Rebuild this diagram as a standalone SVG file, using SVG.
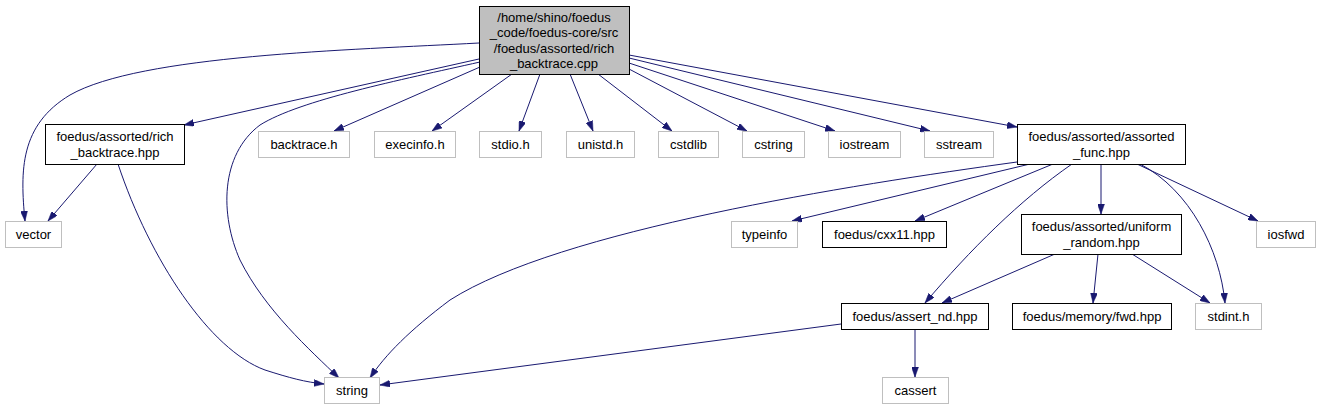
<svg xmlns="http://www.w3.org/2000/svg" width="1320" height="409" viewBox="0 0 1320 409">
<style>
  .n rect { fill: #ffffff; stroke: #000000; stroke-width: 1; }
  .u rect { fill: #ffffff; stroke: #bfbfbf; stroke-width: 1; }
  .root rect { fill: #bfbfbf; stroke: #000000; stroke-width: 1; }
  text { font-family: "Liberation Sans", Arial, sans-serif; font-size: 13px; fill: #000000; text-anchor: middle; }
  .e path { fill: none; stroke: #191970; stroke-width: 1; marker-end: url(#ah); }
</style>
<defs>
  <marker id="ah" viewBox="0 0 10 7" markerWidth="10" markerHeight="7" refX="10" refY="3.5" orient="auto" markerUnits="userSpaceOnUse">
    <path d="M0,0 L10,3.5 L0,7 z" fill="#191970" stroke="#191970" stroke-width="0.5"/>
  </marker>
</defs>
<rect width="1320" height="409" fill="#ffffff"/>
<g id="edges" class="e">
  <path d="M479,43 C350,50 140,55 70,95 C20,125 20,170 25,221"/>
  <path d="M479,59 L184,125"/>
  <path d="M480,62 C400,80 300,100 260,125 C220,155 220,215 240,260 C265,310 310,350 339,378"/>
  <path d="M480,67 L334,131"/>
  <path d="M512,74 L432,131"/>
  <path d="M540,74 L519,131"/>
  <path d="M570,74 L593,131"/>
  <path d="M598,74 L672,131"/>
  <path d="M629,69 L747,131"/>
  <path d="M629,63 L835,131"/>
  <path d="M629,58 L930,131"/>
  <path d="M629,55 L1017,127"/>
  <path d="M1017,162 C850,185 560,230 450,300 C410,330 385,355 370,378"/>
  <path d="M1030,164 L792,221"/>
  <path d="M1053,164 L915,221"/>
  <path d="M1072,164 C1020,200 970,250 925,303"/>
  <path d="M1101,164 L1101,214"/>
  <path d="M1137,164 L1258,221"/>
  <path d="M1140,164 C1190,190 1220,250 1225,303"/>
  <path d="M1055,254 L942,303"/>
  <path d="M1098,254 L1093,303"/>
  <path d="M1132,254 L1210,303"/>
  <path d="M97,164 L48,221"/>
  <path d="M118,164 C150,260 210,350 265,370 C290,378 305,382 324,384"/>
  <path d="M841,324 L380,385"/>
  <path d="M915,329 L915,377"/>
</g>
<g id="node_root" class="root">
  <rect x="479.5" y="6.5" width="150" height="68"/>
  <text x="554" y="21.5">/home/shino/foedus</text>
  <text x="554" y="37">_code/foedus-core/src</text>
  <text x="554" y="52.5">/foedus/assorted/rich</text>
  <text x="554" y="68">_backtrace.cpp</text>
</g>
<g id="node_rich_backtrace" class="n">
  <rect x="45.5" y="124.5" width="139" height="40"/>
  <text x="115" y="141">foedus/assorted/rich</text>
  <text x="115" y="156.5">_backtrace.hpp</text>
</g>
<g id="node_vector" class="u">
  <rect x="5.5" y="221.5" width="56" height="26"/>
  <text x="33.5" y="239">vector</text>
</g>
<g id="node_backtrace_h" class="u">
  <rect x="258.5" y="131.5" width="91" height="26"/>
  <text x="304" y="149">backtrace.h</text>
</g>
<g id="node_execinfo_h" class="u">
  <rect x="374.5" y="131.5" width="81" height="26"/>
  <text x="415" y="149">execinfo.h</text>
</g>
<g id="node_stdio_h" class="u">
  <rect x="479.5" y="131.5" width="62" height="26"/>
  <text x="510.5" y="149">stdio.h</text>
</g>
<g id="node_unistd_h" class="u">
  <rect x="566.5" y="131.5" width="68" height="26"/>
  <text x="600.5" y="149">unistd.h</text>
</g>
<g id="node_cstdlib" class="u">
  <rect x="658.5" y="131.5" width="60" height="26"/>
  <text x="688.5" y="149">cstdlib</text>
</g>
<g id="node_cstring" class="u">
  <rect x="742.5" y="131.5" width="62" height="26"/>
  <text x="773.5" y="149">cstring</text>
</g>
<g id="node_iostream" class="u">
  <rect x="828.5" y="131.5" width="72" height="26"/>
  <text x="864.5" y="149">iostream</text>
</g>
<g id="node_sstream" class="u">
  <rect x="924.5" y="131.5" width="69" height="26"/>
  <text x="959" y="149">sstream</text>
</g>
<g id="node_assorted_func" class="n">
  <rect x="1017.5" y="124.5" width="168" height="40"/>
  <text x="1101.5" y="141">foedus/assorted/assorted</text>
  <text x="1101.5" y="156.5">_func.hpp</text>
</g>
<g id="node_typeinfo" class="u">
  <rect x="731.5" y="221.5" width="66" height="26"/>
  <text x="764.5" y="239">typeinfo</text>
</g>
<g id="node_cxx11" class="n">
  <rect x="822.5" y="221.5" width="124" height="26"/>
  <text x="884.5" y="239">foedus/cxx11.hpp</text>
</g>
<g id="node_uniform_random" class="n">
  <rect x="1021.5" y="214.5" width="160" height="40"/>
  <text x="1101.5" y="231">foedus/assorted/uniform</text>
  <text x="1101.5" y="246.5">_random.hpp</text>
</g>
<g id="node_iosfwd" class="u">
  <rect x="1256.5" y="221.5" width="59" height="26"/>
  <text x="1286" y="239">iosfwd</text>
</g>
<g id="node_assert_nd" class="n">
  <rect x="841.5" y="303.5" width="147" height="26"/>
  <text x="915" y="321">foedus/assert_nd.hpp</text>
</g>
<g id="node_memory_fwd" class="n">
  <rect x="1012.5" y="303.5" width="159" height="26"/>
  <text x="1092" y="321">foedus/memory/fwd.hpp</text>
</g>
<g id="node_stdint_h" class="u">
  <rect x="1195.5" y="303.5" width="66" height="26"/>
  <text x="1228.5" y="321">stdint.h</text>
</g>
<g id="node_string" class="u">
  <rect x="324.5" y="377.5" width="55" height="26"/>
  <text x="352" y="395">string</text>
</g>
<g id="node_cassert" class="u">
  <rect x="882.5" y="377.5" width="66" height="26"/>
  <text x="915.5" y="395">cassert</text>
</g>
</svg>
